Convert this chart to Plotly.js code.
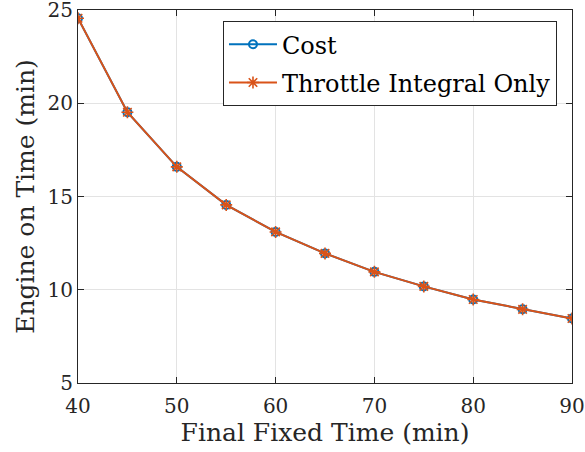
<!DOCTYPE html>
<html>
<head>
<meta charset="utf-8">
<script src="https://cdn.plot.ly/plotly-3.0.1.min.js"></script>
<style>html,body{margin:0;padding:0;background:#fff;}#chart{width:585px;height:452px;}</style>
</head>
<body>
<div id="chart"></div>
<script>
const finalTime = [40, 45, 50, 55, 60, 65, 70, 75, 80, 85, 90];
const costEngineOn = [24.56, 19.52, 16.59, 14.55, 13.1, 11.95, 10.96, 10.18, 9.48, 8.95, 8.46];
const throttleEngineOn = [24.56, 19.52, 16.59, 14.55, 13.1, 11.95, 10.96, 10.18, 9.48, 8.95, 8.46];
const seriesNames = ["Cost", "Throttle Integral Only"];
const xTicks = [40, 50, 60, 70, 80, 90];
const yTicks = [5, 10, 15, 20, 25];

const font = "DejaVu Serif, serif";
const axisColor = "#262626";

const traces = [
  {
    x: finalTime, y: costEngineOn, name: seriesNames[0], type: "scatter", mode: "lines+markers",
    legendgroup: "g1",
    line: {color: "#0072BD", width: 2},
    marker: {symbol: "circle-open", size: 8, color: "#0072BD", line: {width: 2, color: "#0072BD"}}
  },
  {
    x: finalTime, y: throttleEngineOn, name: seriesNames[1], type: "scatter", mode: "lines+markers",
    legendgroup: "g2",
    line: {color: "#D95319", width: 2},
    marker: {symbol: "asterisk-open", size: 10, color: "#D95319", line: {width: 1.6, color: "#D95319"}}
  }
];

const axisCommon = {
  showline: true, linecolor: axisColor, linewidth: 1, mirror: "ticks",
  ticks: "inside", ticklen: 6, tickcolor: axisColor, tickwidth: 1,
  showgrid: true, gridcolor: "#e3e3e3", gridwidth: 1, zeroline: false,
  ticklabeloverflow: "allow",
  tickfont: {family: font, size: 20, color: axisColor}
};

const layout = {
  width: 585, height: 452,
  margin: {l: 78, r: 13, t: 10, b: 69},
  paper_bgcolor: "#ffffff", plot_bgcolor: "#ffffff",
  showlegend: true,
  xaxis: Object.assign({}, axisCommon, {
    range: [40, 90], tickvals: xTicks, ticktext: xTicks.map(String),
    ticklabelstandoff: 5,
    title: {text: "Final Fixed Time (min)", font: {family: font, size: 25, color: axisColor}, standoff: 6}
  }),
  yaxis: Object.assign({}, axisCommon, {
    range: [5, 25], tickvals: yTicks, ticktext: yTicks.map(String),
    title: {text: "Engine on Time (min)", font: {family: font, size: 25, color: axisColor}, standoff: 5}
  }),
  legend: {
    x: 0.2935, y: 0.97, xanchor: "left", yanchor: "top",
    bgcolor: "#ffffff", bordercolor: axisColor, borderwidth: 1,
    font: {family: font, size: 24, color: "#000000"},
    tracegroupgap: 4, itemwidth: 48
  }
};

Plotly.newPlot("chart", traces, layout, {displayModeBar: false, staticPlot: true});
</script>
</body>
</html>
